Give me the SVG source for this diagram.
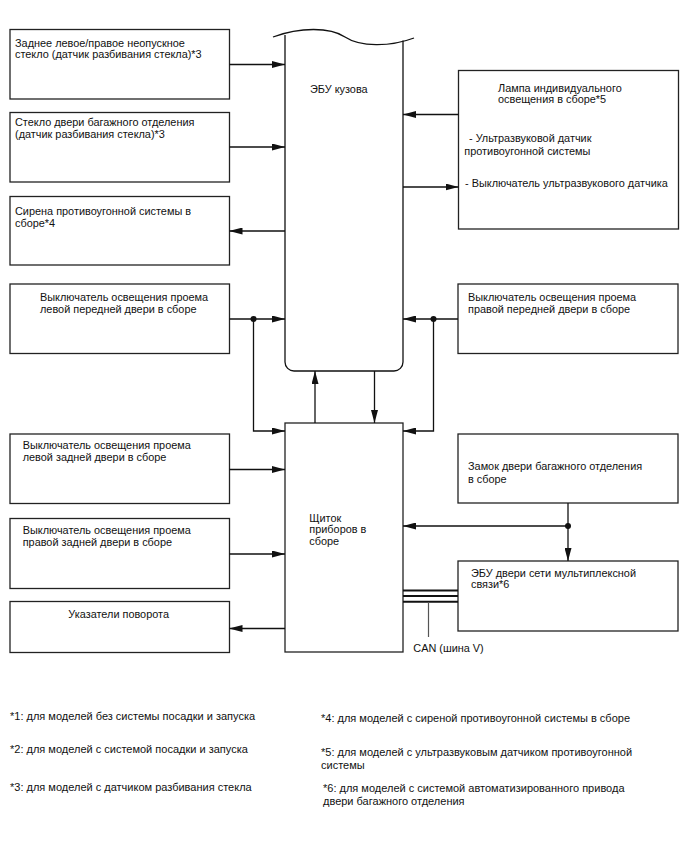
<svg xmlns="http://www.w3.org/2000/svg" width="688" height="852" viewBox="0 0 688 852">
<defs>
<style>
.box{fill:#fff;stroke:#222;stroke-width:1.3}
.ln{fill:none;stroke:#111;stroke-width:1.3}
.arr{fill:none;stroke:#111;stroke-width:1.3;marker-end:url(#ah)}
.t{font-family:"Liberation Sans",Arial,sans-serif;font-size:10.9px;fill:#111}
.fn{font-family:"Liberation Sans",Arial,sans-serif;font-size:11px;fill:#111}
.dot{fill:#111}
</style>
<marker id="ah" viewBox="0 0 13 7" refX="13" refY="3.5" markerWidth="13" markerHeight="7" markerUnits="userSpaceOnUse" orient="auto">
<path d="M0,0 L13,3.5 L0,7 z" fill="#111"/>
</marker>
</defs>
<rect width="688" height="852" fill="#fff"/>

<g id="ecu-body">
<path class="ln" d="M273,37 C300,27 330,27 345,37 C360,47 390,47 414,38"/>
<path class="ln" d="M285,35 V362 A9,9 0 0 0 294,371 H394 A9,9 0 0 0 403,362 V40.5"/>
<text class="t" x="310" y="92.7">ЭБУ кузова</text>
</g>

<g id="instrument-panel">
<rect class="box" x="285" y="423" width="118" height="229"/>
<text class="t" x="309.3" y="521.7">Щиток</text>
<text class="t" x="309.3" y="533.3">приборов в</text>
<text class="t" x="309.3" y="545">сборе</text>
</g>

<g id="rear-fixed-glass">
<rect class="box" x="10" y="29.5" width="219.5" height="69.5"/>
<text class="t" x="15" y="46.5">Заднее левое/правое неопускное</text>
<text class="t" x="15" y="57.8">стекло (датчик разбивания стекла)*3</text>
</g>

<g id="back-door-glass">
<rect class="box" x="10" y="112.5" width="219.5" height="69.5"/>
<text class="t" x="15" y="126">Стекло двери багажного отделения</text>
<text class="t" x="15" y="137.5">(датчик разбивания стекла)*3</text>
</g>

<g id="siren">
<rect class="box" x="10" y="196.5" width="219.5" height="68.5"/>
<text class="t" x="15" y="215">Сирена противоугонной системы в</text>
<text class="t" x="15" y="226.7">сборе*4</text>
</g>

<g id="lamp">
<rect class="box" x="458.5" y="70.5" width="220" height="158.5"/>
<text class="t" x="498" y="91.7">Лампа индивидуального</text>
<text class="t" x="498" y="103.3">освещения в сборе*5</text>
<text class="t" x="469" y="142.3">- Ультразвуковой датчик</text>
<text class="t" x="464.3" y="155">противоугонной системы</text>
<text class="t" x="465" y="186.7">- Выключатель ультразвукового датчика</text>
</g>

<g id="lf-door-sw">
<rect class="box" x="10" y="284" width="219.5" height="69.5"/>
<text class="t" x="40" y="300.7">Выключатель освещения проема</text>
<text class="t" x="40" y="312.7">левой передней двери в сборе</text>
</g>

<g id="rf-door-sw">
<rect class="box" x="458" y="284" width="220" height="69.5"/>
<text class="t" x="468" y="300.7">Выключатель освещения проема</text>
<text class="t" x="468" y="312.7">правой передней двери в сборе</text>
</g>

<g id="lr-door-sw">
<rect class="box" x="10" y="434" width="219.5" height="69.5"/>
<text class="t" x="22.7" y="449.3">Выключатель освещения проема</text>
<text class="t" x="22.7" y="461.3">левой задней двери в сборе</text>
</g>

<g id="rr-door-sw">
<rect class="box" x="10" y="518.5" width="219.5" height="70"/>
<text class="t" x="22.7" y="534.3">Выключатель освещения проема</text>
<text class="t" x="22.7" y="546.3">правой задней двери в сборе</text>
</g>

<g id="turn-signals">
<rect class="box" x="10" y="601.5" width="219.5" height="51"/>
<text class="t" x="68.3" y="618.3">Указатели поворота</text>
</g>

<g id="back-door-lock">
<rect class="box" x="458" y="434" width="220" height="69"/>
<text class="t" x="468" y="470">Замок двери багажного отделения</text>
<text class="t" x="468" y="482.5">в сборе</text>
</g>

<g id="mpx-door-ecu">
<rect class="box" x="458" y="561" width="220" height="70"/>
<text class="t" x="471" y="576.7">ЭБУ двери сети мультиплексной</text>
<text class="t" x="471" y="588.3">связи*6</text>
</g>

<g id="connectors">
<line class="arr" x1="229.5" y1="64.5" x2="285" y2="64.5"/>
<line class="arr" x1="229.5" y1="147" x2="285" y2="147"/>
<line class="arr" x1="285" y1="231" x2="229.5" y2="231"/>
<line class="arr" x1="458.5" y1="114.5" x2="403" y2="114.5"/>
<line class="arr" x1="403" y1="187" x2="458.5" y2="187"/>
<line class="arr" x1="229.5" y1="319" x2="285" y2="319"/>
<polyline class="arr" points="253.5,319 253.5,431 285,431"/>
<circle class="dot" cx="253.5" cy="319" r="3"/>
<line class="arr" x1="458" y1="319" x2="403" y2="319"/>
<polyline class="arr" points="433.5,319 433.5,431 403,431"/>
<circle class="dot" cx="433.5" cy="319" r="3"/>
<line class="arr" x1="315" y1="423" x2="315" y2="371"/>
<line class="arr" x1="374.5" y1="371" x2="374.5" y2="423"/>
<line class="arr" x1="229.5" y1="469.5" x2="285" y2="469.5"/>
<line class="arr" x1="229.5" y1="554" x2="285" y2="554"/>
<line class="arr" x1="285" y1="628.5" x2="229.5" y2="628.5"/>
<line class="arr" x1="568" y1="503" x2="568" y2="561"/>
<line class="arr" x1="568" y1="526" x2="403" y2="526"/>
<circle class="dot" cx="568" cy="526" r="3"/>
<g id="can-bus">
<line x1="403" y1="590.5" x2="458" y2="590.5" stroke="#111" stroke-width="2"/>
<line x1="403" y1="596" x2="458" y2="596" stroke="#111" stroke-width="2"/>
<line x1="403" y1="601.8" x2="458" y2="601.8" stroke="#111" stroke-width="2"/>
<line x1="428.5" y1="602" x2="428.5" y2="637" stroke="#555" stroke-width="1.2"/>
</g>
</g>
<text class="t" x="413.3" y="651.7">CAN (шина V)</text>

<g id="footnotes">
<text class="fn" x="10" y="720">*1: для моделей без системы посадки и запуска</text>
<text class="fn" x="10" y="753">*2: для моделей с системой посадки и запуска</text>
<text class="fn" x="10" y="790.5">*3: для моделей с датчиком разбивания стекла</text>
<text class="fn" x="321" y="721.5">*4: для моделей с сиреной противоугонной системы в сборе</text>
<text class="fn" x="321" y="755.5">*5: для моделей с ультразвуковым датчиком противоугонной</text>
<text class="fn" x="321" y="769">системы</text>
<text class="fn" x="323" y="791.5">*6: для моделей с системой автоматизированного привода</text>
<text class="fn" x="323" y="804.5">двери багажного отделения</text>
</g>
</svg>
